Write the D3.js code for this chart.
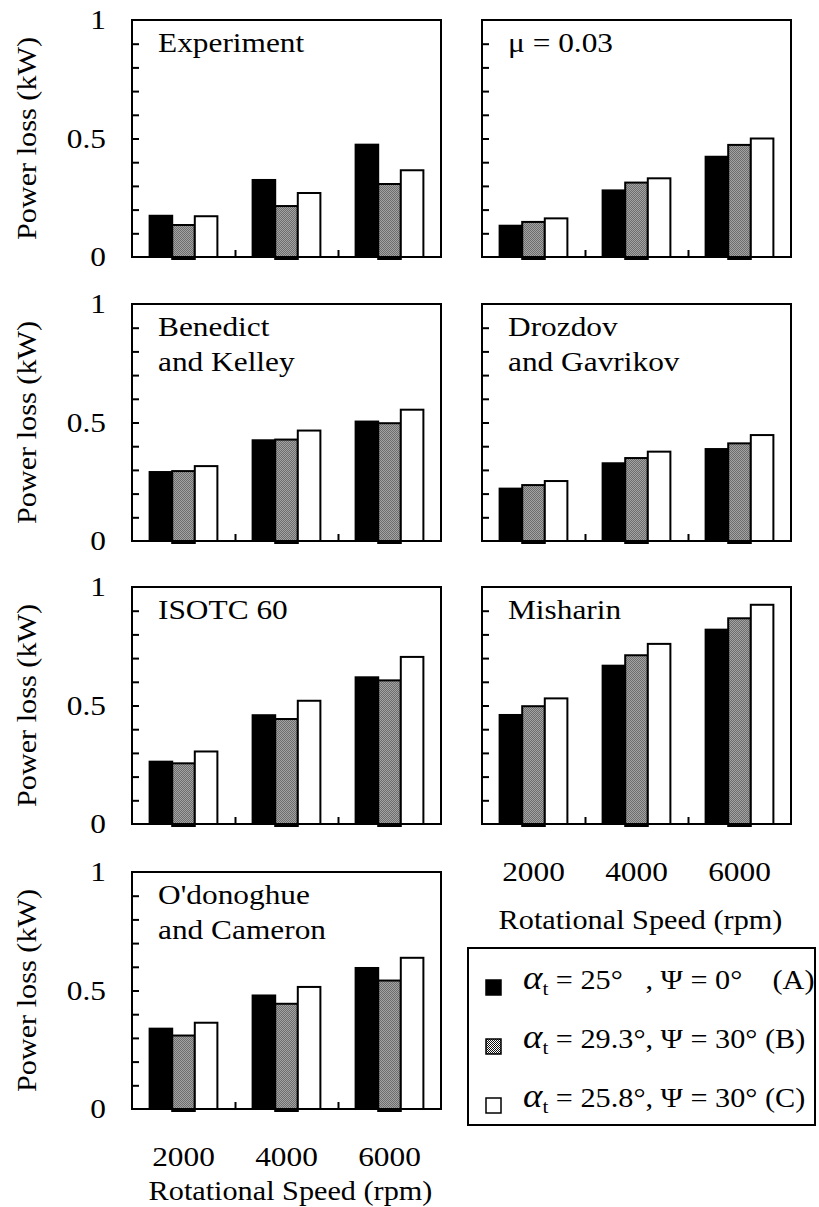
<!DOCTYPE html>
<html>
<head>
<meta charset="utf-8">
<script src="https://cdn.jsdelivr.net/npm/d3@7"></script>
<style>
  body { margin: 0; background: #fff; }
</style>
</head>
<body>
<svg id="chart" width="819" height="1207"></svg>
<script>
// Rotational speeds (rpm) and the three gear cases
const speeds = ["2000", "4000", "6000"];
const cases = ["A", "B", "C"];
const yLabelTicks = [0, 0.5, 1];

// Power loss (kW): one row per speed, values for cases A, B, C
const experiment       = [[0.174, 0.135, 0.172], [0.325, 0.215, 0.270], [0.474, 0.308, 0.366]];
const mu003            = [[0.132, 0.148, 0.163], [0.281, 0.314, 0.332], [0.423, 0.473, 0.500]];
const benedictKelley   = [[0.291, 0.295, 0.316], [0.425, 0.428, 0.466], [0.504, 0.497, 0.554]];
const drozdovGavrikov  = [[0.221, 0.236, 0.253], [0.328, 0.350, 0.377], [0.388, 0.412, 0.447]];
const isotc60          = [[0.263, 0.256, 0.306], [0.459, 0.443, 0.520], [0.619, 0.606, 0.705]];
const misharin         = [[0.460, 0.497, 0.530], [0.668, 0.712, 0.760], [0.820, 0.868, 0.925]];
const odonoghueCameron = [[0.339, 0.310, 0.364], [0.479, 0.444, 0.515], [0.595, 0.542, 0.638]];

// Panel titles
const panelTitles = [
  ["Experiment"], ["\u03bc = 0.03"],
  ["Benedict", "and Kelley"], ["Drozdov", "and Gavrikov"],
  ["ISOTC 60"], ["Misharin"],
  ["O'donoghue", "and Cameron"]
];
const panelData = [experiment, mu003, benedictKelley, drozdovGavrikov, isotc60, misharin, odonoghueCameron];

// Legend text pieces
const legendAlpha = ["25\u00b0   ", "29.3\u00b0", "25.8\u00b0"];
const legendPsi   = ["0\u00b0   ", "30\u00b0", "30\u00b0"];
const legendTags  = ["(A)", "(B)", "(C)"];

const yTitle = "Power loss (kW)";
const xTitle = "Rotational Speed (rpm)";

// ---- layout ----
const colX = [132, 482];
const rowY = [20, 304, 587, 872];
const W = 309, H = 237;
const FS = 27;
const SERIF = '"Liberation Serif", "Times New Roman", Tinos, serif';
const STRETCH = 1.12;   // the lettering is set a little wide

const svg = d3.select("#chart");
svg.append("rect").attr("width", 819).attr("height", 1207).attr("fill", "#fff");

const defs = svg.append("defs");
const pat = defs.append("pattern").attr("id", "dots")
  .attr("width", 2).attr("height", 2).attr("patternUnits", "userSpaceOnUse");
pat.append("rect").attr("width", 2).attr("height", 2).attr("fill", "#fff");
pat.append("rect").attr("x", 0).attr("y", 0).attr("width", 1).attr("height", 1).attr("fill", "#111");
pat.append("rect").attr("x", 1).attr("y", 1).attr("width", 1).attr("height", 1).attr("fill", "#111");

const fills = { A: "#000", B: "url(#dots)", C: "#fff" };

const y = d3.scaleLinear().domain([0, 1]).range([H, 0]);
const x0 = d3.scaleBand().domain(speeds).range([0, W]).paddingInner(0.342).paddingOuter(0.171);
const x1 = d3.scaleBand().domain(cases).range([0, x0.bandwidth()]);
const xSep = d3.scaleLinear().domain([0, 3]).range([0, W]);

panelData.forEach((data, p) => {
  const col = p % 2, row = Math.floor(p / 2);
  const g = svg.append("g").attr("transform", `translate(${colX[col]},${rowY[row]})`);

  // bars
  const groups = g.selectAll("g.grp").data(speeds.map((s, i) => ({ s, vals: data[i] })))
    .join("g").attr("class", "grp")
    .attr("transform", d => `translate(${x0(d.s)},0)`);
  groups.selectAll("rect")
    .data(d => cases.map((c, j) => ({ c, v: d.vals[j] })))
    .join("rect")
    .attr("x", d => x1(d.c))
    .attr("y", d => y(d.v))
    .attr("width", x1.bandwidth())
    .attr("height", d => y(0) - y(d.v) + (d.c === "B" ? 2 : 0))
    .attr("fill", d => fills[d.c])
    .attr("stroke", "#000")
    .attr("stroke-width", 2);

  // minor ticks on the left, pointing inward
  const yt = g.append("g").call(
    d3.axisLeft(y).tickValues(d3.range(1, 10).map(i => i / 10)).tickSize(-7).tickFormat(""));
  yt.select(".domain").remove();
  yt.selectAll("line").attr("stroke-width", 2);

  // separators between speed groups on the bottom edge
  const xt = g.append("g").attr("transform", `translate(0,${H})`).call(
    d3.axisBottom(xSep).tickValues([1, 2]).tickSize(-7).tickFormat(""));
  xt.select(".domain").remove();
  xt.selectAll("line").attr("stroke-width", 2);

  // frame
  g.append("rect").attr("width", W).attr("height", H)
    .attr("fill", "none").attr("stroke", "#000").attr("stroke-width", 2);

  // y labels on the left column
  if (col === 0) {
    const yl = g.append("g").call(
      d3.axisLeft(y).tickValues(yLabelTicks).tickSize(0).tickPadding(26).tickFormat(d3.format("")));
    yl.select(".domain").remove();
    yl.selectAll("text").attr("font-size", FS + 1);
    g.append("text")
      .attr("transform", `translate(-105,${H / 2}) rotate(-90)`)
      .attr("text-anchor", "middle").attr("dy", "0.35em")
      .attr("font-size", FS).text(yTitle);
  }

  // x labels under the lowest panel of each column
  const isBottom = (col === 0 && row === 3) || (col === 1 && row === 2);
  if (isBottom) {
    const xl = g.append("g").attr("transform", `translate(0,${H})`).call(
      d3.axisBottom(x0).tickSize(0).tickPadding(37));
    xl.select(".domain").remove();
    xl.selectAll("text").attr("font-size", FS + 1);
    g.append("text")
      .attr("x", W / 2 + 4).attr("y", H + (col === 0 ? 91 : 105))
      .attr("text-anchor", "middle").attr("font-size", FS).text(xTitle);
  }

  // panel title
  const t = g.append("text").attr("x", 26).attr("y", 32).attr("font-size", FS + 1);
  panelTitles[p].forEach((line, k) => {
    t.append("tspan").attr("x", 26).attr("dy", k === 0 ? 0 : 35).text(line);
  });
});

// ---- legend ----
const lg = svg.append("g").attr("transform", "translate(468,948)");
lg.append("rect").attr("width", 347).attr("height", 177)
  .attr("fill", "#fff").attr("stroke", "#000").attr("stroke-width", 2);

cases.forEach((c, i) => {
  const base = 41 + i * 59;
  lg.append("rect").attr("x", 18).attr("y", base - 9).attr("width", 15).attr("height", 15)
    .attr("fill", fills[c]).attr("stroke", "#000").attr("stroke-width", 1.5);
  const tx = lg.append("text").attr("x", 55).attr("y", base).attr("font-size", FS)
    .style("white-space", "pre");
  tx.append("tspan").attr("font-style", "italic").attr("font-size", 33).text("\u03b1");
  tx.append("tspan").attr("font-size", 19).attr("dy", 6).text("t");
  tx.append("tspan").attr("dy", -6).text(" = " + legendAlpha[i] + ", \u03a8 = " + legendPsi[i] + " " + legendTags[i]);
});

// serif lettering everywhere, widened along the reading direction
svg.selectAll("text").each(function () {
  const t = d3.select(this);
  t.style("font-family", SERIF).attr("fill", "#000");
  const prev = t.attr("transform");
  if (prev) {
    t.attr("transform", `${prev} scale(${STRETCH},1)`);
  } else {
    const x = +t.attr("x") || 0;
    t.attr("transform", `translate(${x},0) scale(${STRETCH},1) translate(${-x},0)`);
  }
});
</script>
</body>
</html>
